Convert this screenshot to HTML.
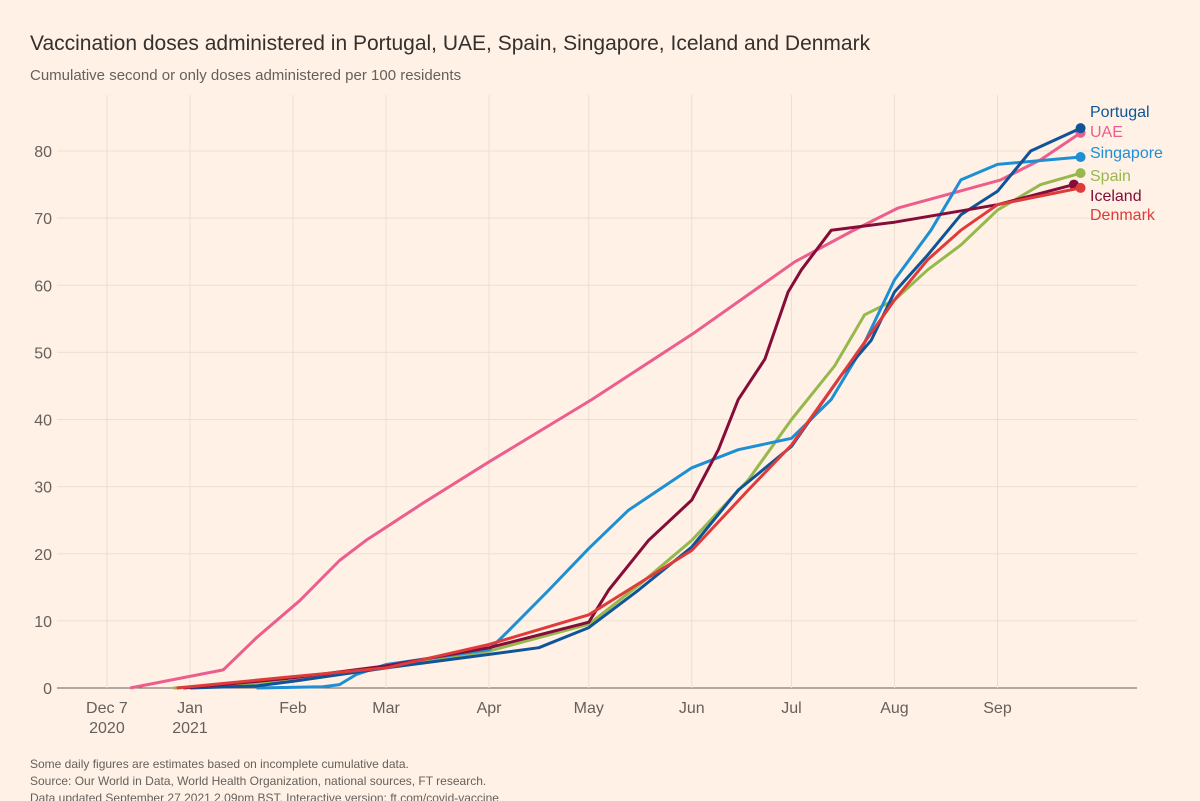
<!DOCTYPE html>
<html><head><meta charset="utf-8"><style>
body{margin:0;background:#fff1e5;font-family:"Liberation Sans",sans-serif;}
#wrap{position:relative;width:1200px;height:801px;overflow:hidden;background:#fff1e5;}
.t{position:absolute;white-space:nowrap;}
</style></head><body>
<div id="wrap">
<div class="t" style="left:30px;top:32px;font-size:21px;color:#33302e">Vaccination doses administered in Portugal, UAE, Spain, Singapore, Iceland and Denmark</div>
<div class="t" style="left:30px;top:67px;font-size:15px;color:#66605c">Cumulative second or only doses administered per 100 residents</div>
<div class="t" style="left:30px;top:756px;font-size:12px;line-height:17px;color:#66605c">Some daily figures are estimates based on incomplete cumulative data.<br>Source: Our World in Data, World Health Organization, national sources, FT research.<br>Data updated September 27 2021 2.09pm BST. Interactive version: ft.com/covid-vaccine</div>
<svg id="svg" width="1200" height="801" style="position:absolute;left:0;top:0"></svg>
</div>
<script>
const yTicks=[0,10,20,30,40,50,60,70,80];
const xTickDays=[-25,0,31,59,90,120,151,181,212,243];
const xTickLabels=[["Dec 7","2020"],["Jan","2021"],["Feb"],["Mar"],["Apr"],["May"],["Jun"],["Jul"],["Aug"],["Sep"]];
const seriesNames=["UAE","Spain","Singapore","Portugal","Iceland","Denmark"];
const seriesColors=["#eb5e8d","#96b84c","#1e8fd5","#0f5499","#840d3a","#e03b3b"];
const uaeDays=[-18,10,20,33,45,53,70,90,121,152,182,199,213,244,256,268];
const uaeVals=[0,2.7,7.5,13,19,22,27.5,33.7,43,53,63.5,68,71.5,75.7,78.7,82.7];
const spainDays=[-5,31,59,90,120,135,151,168,181,194,203,212,222,232,243,256,268];
const spainVals=[0,1,3,5.5,9.5,15.3,22,31,40,48,55.6,57.8,62.3,66,71.2,75,76.7];
const singDays=[20,40,45,50,59,90,96,108,120,132,151,165,181,193,202,212,223,232,243,268];
const singVals=[0,0.2,0.5,2,3.5,5.7,8.6,14.6,20.8,26.5,32.8,35.5,37.2,43,50.4,60.8,68.2,75.7,78,79.1];
const portDays=[0,20,31,59,90,105,120,135,151,165,181,196,205,212,222,232,243,253,268];
const portVals=[0,0.3,1,3,5,6,9,14.6,21,29.5,36,46.6,51.8,59,64.5,70.5,74,80,83.4];
const iceDays=[-2,14,31,59,90,120,126,138,151,159,165,173,180,184,193,212,243,266];
const iceVals=[0,0.7,1.5,3.3,6,9.8,14.6,22,28,35.5,43,49,59,62.3,68.2,69.4,72,75];
const denDays=[-4,31,59,90,120,151,168,181,195,212,222,232,243,268];
const denVals=[0,1.7,3,6.5,10.9,20.5,29.5,36.2,45.9,57.8,63.8,68.2,72,74.5];
const allDays=[uaeDays,spainDays,singDays,portDays,iceDays,denDays];
const allVals=[uaeVals,spainVals,singVals,portVals,iceVals,denVals];
const labelY=[131,175,152,111,195,214];
const xS=d=>190+d*3.323;
const yS=v=>688-v*6.7125;
const svg=document.getElementById('svg');
const NS="http://www.w3.org/2000/svg";
function mk(t,a){const e=document.createElementNS(NS,t);for(const k in a)e.setAttribute(k,a[k]);svg.appendChild(e);return e;}
yTicks.forEach(v=>{
 const l=mk('line',{x1:57,x2:1137,y1:yS(v),y2:yS(v),stroke:v===0?'#66605c':'#ebdfd4','stroke-width':1});
 
 
 const t=mk('text',{x:52,y:yS(v)+6,'text-anchor':'end','font-size':16,fill:'#66605c','font-family':'Liberation Sans, sans-serif'});
 t.textContent=v;
 
 
});
xTickDays.forEach((d,i)=>{
 const l=mk('line',{x1:xS(d),x2:xS(d),y1:95,y2:688,stroke:'#ebdfd4','stroke-width':1});
 
 
 xTickLabels[i].forEach((s,j)=>{
  const t=mk('text',{x:xS(d),y:713+j*20,'text-anchor':'middle','font-size':16,fill:'#66605c','font-family':'Liberation Sans, sans-serif'});
  t.textContent=s;
  
  
 });
});
seriesNames.forEach((n,i)=>{
 const ds=allDays[i],vs=allVals[i];
 const p=ds.map((d,k)=>xS(d).toFixed(1)+','+yS(vs[k]).toFixed(1)).join(' ');
 const pl=mk('polyline',{points:p,fill:'none',stroke:seriesColors[i],'stroke-width':3,'stroke-linejoin':'round'});
 
 
 const ld=ds[ds.length-1],lv=vs[vs.length-1];
 const c=mk('circle',{cx:xS(ld),cy:yS(lv),r:5,fill:seriesColors[i]});
 
 
 const t=mk('text',{x:1090,y:labelY[i]+6,'font-size':16,fill:seriesColors[i],'font-family':'Liberation Sans, sans-serif'});
 t.textContent=n;
 
 
});
</script>
</body></html>
